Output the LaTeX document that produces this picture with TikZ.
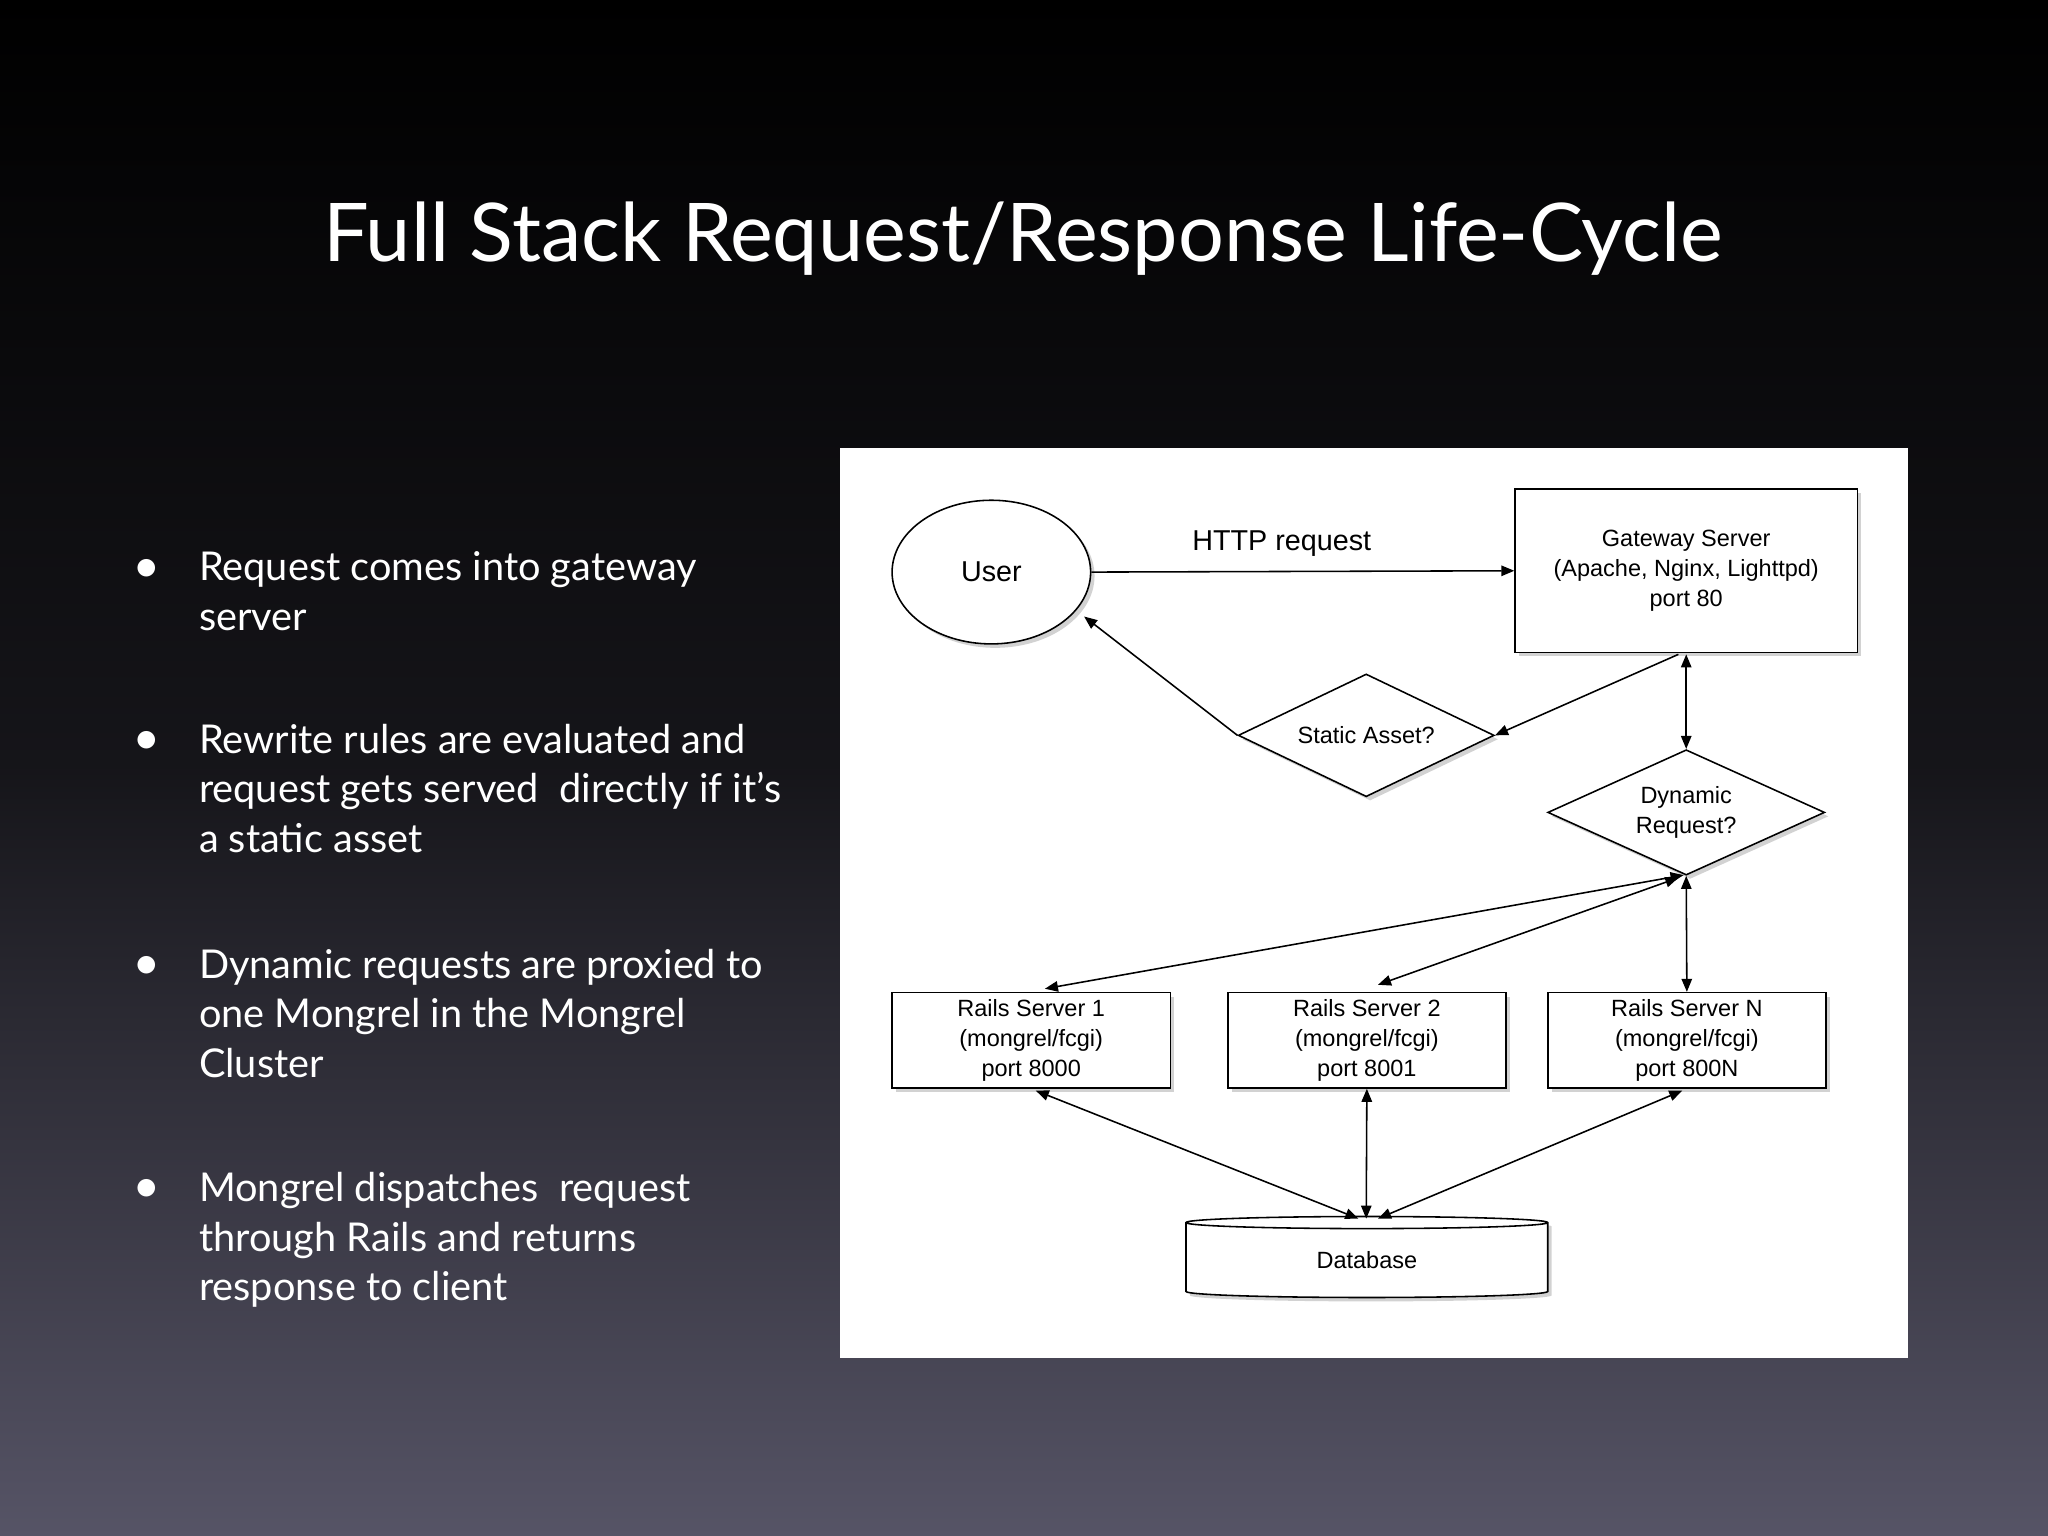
\documentclass[tikz,border=0pt]{standalone}
\usepackage{fontspec}
\setmainfont{Lato}
\newfontfamily\diag{Liberation Sans}
\usetikzlibrary{shapes.geometric,shadows,arrows.meta}
\definecolor{bgbot}{RGB}{86,84,102}
\begin{document}
\begin{tikzpicture}[x=0.5pt,y=-0.5pt,
  box/.style={draw,line width=0.6pt,fill=white,drop shadow={shadow xshift=1.5pt,shadow yshift=-1.5pt,opacity=0.35},font=\diag\fontsize{9}{11.5}\selectfont,align=center,inner sep=0pt},
  arr/.style={-{Triangle[length=5pt,width=4pt]},line width=0.6pt},
  darr/.style={{Triangle[length=5pt,width=4pt]}-{Triangle[length=5pt,width=4pt]},line width=0.6pt},
  bul/.style={anchor=north west,text=white,font={\fontsize{15.2}{19}\selectfont},align=left,inner sep=0pt}]
\shade[top color=black,bottom color=bgbot,middle color=black!75!bgbot] (0,0) rectangle (1568,1176);
\useasboundingbox (0,0) rectangle (1568,1176);
\node[text=white,font=\fontsize{31}{36}\selectfont] (title) at (783,183) {Full Stack Request/Response Life-Cycle};
% bullets
\foreach \y/\t [count=\i] in {422/{Request comes into gateway\\server},554/{Rewrite rules are evaluated and\\request gets served\ \ directly if it’s\\a static asset},726/{Dynamic requests are proxied to\\one Mongrel in the Mongrel\\Cluster},897/{Mongrel dispatches\ \ request\\through Rails and returns\\response to client}}{
  \node[text=white,font=\fontsize{16}{19}\selectfont] (d\i) at (112,\y+14) {$\bullet$};
  \node[bul] (b\i) at (152,\y) {\t};
}
\fill[white] (643,343) rectangle (1461,1040);
\node[box,ellipse,minimum width=76pt,minimum height=55pt] (user) at (759,438) {\fontsize{11}{13}\selectfont User};
\node[box,minimum width=131pt,minimum height=62.5pt] (gw) at (1291,437) {Gateway Server\\(Apache, Nginx, Lighttpd)\\port 80};
\node[box,diamond,minimum width=98pt,minimum height=47pt,aspect=2] (st) at (1046,563) {Static Asset?};
\node[box,diamond,minimum width=106pt,minimum height=48pt,aspect=2.2] (dy) at (1291,622) {Dynamic\\Request?};
\node[box,minimum width=106.5pt,minimum height=36.5pt] (r1) at (789.5,796.5) {Rails Server 1\\(mongrel/fcgi)\\port 8000};
\node[box,minimum width=106.5pt,minimum height=36.5pt] (r2) at (1046.5,796.5) {Rails Server 2\\(mongrel/fcgi)\\port 8001};
\node[box,minimum width=106.5pt,minimum height=36.5pt] (rn) at (1291.5,796.5) {Rails Server N\\(mongrel/fcgi)\\port 800N};
\node[box,cylinder,shape border rotate=90,aspect=0.12,minimum width=138.5pt,minimum height=31pt] (db) at (1046.5,965) {Database};
\draw[arr] (user.east) -- node[pos=0.45,above=2pt,font=\diag\fontsize{11}{13}\selectfont]{HTTP request} (gw.west);
\draw[arr] (1285,501) -- (st.east);
\draw[arr] (st.west) -- (830,472);
\draw[darr] (1291,501) -- (dy.north);
\draw[darr] (800,757) -- (1289,670);
\draw[darr] (1055,754) -- (1285,672);
\draw[darr] (rn.north) -- (dy.south);
\draw[darr] (793,835) -- (1040,933);
\draw[darr] (r2.south) -- (1046,933);
\draw[darr] (1288,835) -- (1055,933);
\end{tikzpicture}
\end{document}
